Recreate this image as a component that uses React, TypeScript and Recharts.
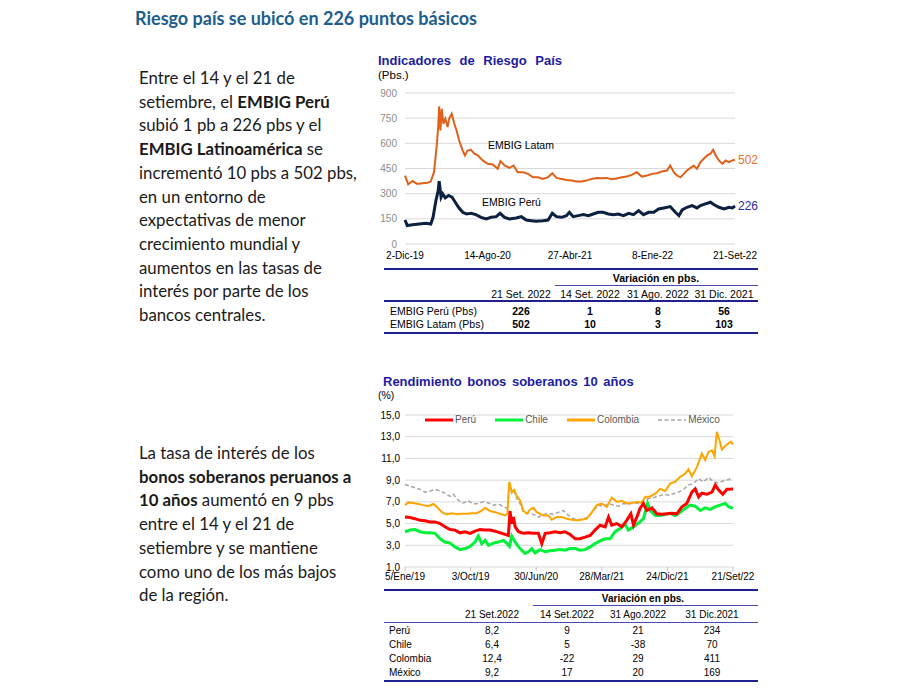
import { LineChart, Line, XAxis, YAxis, CartesianGrid } from 'recharts';
import type { CSSProperties, ReactNode } from 'react';

const ARIAL = '"Liberation Sans", Arial, sans-serif';
const CALIBRI = 'Lato, "Open Sans", sans-serif';

// --- Indicadores de Riesgo País (días desde 2-Dic-19) ---
const riesgoTicks = [0, 256, 512, 768, 1024];
const riesgoTickLabels = ['2-Dic-19', '14-Ago-20', '27-Abr-21', '8-Ene-22', '21-Set-22'];
const riesgoYTicks = [0, 150, 300, 450, 600, 750, 900];

const latamDias = [0, 10, 23, 38, 54, 70, 80, 90, 99, 103, 106, 110, 114, 119, 125, 132, 137, 145, 153, 160, 168, 179, 186, 194, 205, 215, 226, 241, 257, 272, 288, 296, 309, 324, 337, 350, 366, 382, 397, 413, 428, 444, 457, 470, 486, 501, 517, 532, 548, 563, 579, 595, 610, 626, 641, 657, 673, 688, 704, 719, 735, 751, 766, 782, 797, 813, 823, 834, 844, 855, 865, 875, 886, 896, 906, 917, 927, 938, 948, 956, 964, 974, 985, 995, 1005, 1016, 1024];
const latamValores = [408, 355, 375, 358, 362, 365, 372, 428, 597, 697, 820, 677, 806, 717, 747, 697, 747, 776, 717, 677, 617, 557, 528, 557, 561, 538, 528, 498, 478, 474, 448, 494, 468, 454, 468, 428, 428, 418, 398, 398, 388, 398, 422, 394, 388, 382, 378, 372, 372, 378, 388, 394, 392, 394, 386, 390, 398, 402, 412, 428, 402, 408, 418, 422, 432, 438, 468, 428, 408, 398, 418, 438, 454, 468, 448, 488, 508, 528, 538, 561, 528, 498, 478, 498, 488, 498, 502];

const peruEmbigDias = [0, 7, 23, 44, 65, 80, 87, 96, 103, 106, 112, 117, 125, 135, 146, 156, 166, 179, 191, 205, 220, 236, 252, 267, 283, 295, 309, 324, 345, 361, 376, 392, 407, 428, 444, 457, 470, 486, 501, 510, 522, 538, 553, 569, 584, 600, 615, 631, 647, 662, 678, 694, 709, 725, 740, 756, 772, 787, 803, 823, 839, 850, 860, 875, 891, 906, 917, 932, 948, 958, 974, 990, 1005, 1016, 1024];
const peruEmbigValores = [143, 110, 115, 119, 123, 119, 159, 259, 318, 374, 279, 299, 275, 289, 279, 249, 219, 189, 179, 183, 175, 159, 149, 159, 163, 183, 159, 149, 155, 163, 143, 139, 135, 139, 143, 183, 163, 159, 169, 189, 163, 169, 175, 169, 179, 189, 189, 179, 175, 179, 169, 183, 175, 199, 175, 189, 189, 209, 215, 223, 189, 169, 203, 219, 229, 215, 229, 239, 249, 235, 219, 209, 219, 215, 226];

// --- Rendimiento bonos soberanos 10 años (días desde 5/Ene/19) ---
const bonosTicks = [0, 271, 542, 813, 1084, 1355];
const bonosTickLabels = ['5/Ene/19', '3/Oct/19', '30/Jun/20', '28/Mar/21', '24/Dic/21', '21/Set/22'];
const bonosYTicks = [1, 3, 5, 7, 9, 11, 13, 15];

const mexicoDias = [0, 21, 41, 62, 83, 103, 124, 145, 165, 186, 200, 220, 241, 262, 282, 303, 324, 345, 365, 386, 407, 423, 431, 441, 448, 462, 475, 489, 510, 531, 551, 572, 593, 613, 634, 655, 675, 696, 717, 737, 758, 779, 799, 820, 841, 861, 882, 903, 923, 944, 965, 985, 1006, 1027, 1047, 1068, 1089, 1109, 1130, 1151, 1171, 1192, 1213, 1233, 1254, 1275, 1295, 1316, 1337, 1355];
const mexicoValores = [8.6, 8.45, 8.3, 8.15, 7.9, 8.0, 8.15, 8.0, 7.8, 7.5, 7.7, 7.15, 6.9, 7.1, 6.8, 6.85, 7.0, 6.9, 6.7, 6.8, 6.55, 6.4, 8.55, 7.8, 8.1, 7.3, 6.85, 6.05, 5.95, 5.85, 5.6, 5.85, 5.95, 5.85, 6.05, 6.2, 5.75, 5.45, 5.35, 5.45, 5.6, 6.2, 6.7, 6.55, 6.85, 6.7, 6.6, 6.85, 6.8, 6.9, 6.85, 7.15, 7.3, 7.4, 7.5, 7.7, 7.6, 7.75, 7.9, 8.15, 8.55, 8.7, 9.15, 8.85, 9.25, 8.85, 8.75, 8.95, 9.05, 9.25];

const colombiaDias = [0, 14, 34, 55, 76, 96, 117, 131, 152, 172, 193, 214, 234, 255, 276, 296, 317, 331, 351, 372, 393, 413, 423, 431, 441, 451, 462, 475, 489, 503, 517, 531, 544, 558, 572, 593, 606, 627, 648, 668, 689, 710, 730, 751, 772, 792, 813, 834, 854, 875, 896, 916, 937, 958, 978, 992, 1013, 1034, 1054, 1075, 1096, 1116, 1137, 1158, 1171, 1185, 1206, 1226, 1240, 1254, 1268, 1279, 1288, 1299, 1309, 1323, 1337, 1346, 1355];
const colombiaValores = [6.7, 6.95, 6.9, 6.8, 6.7, 6.6, 6.8, 6.55, 6.05, 5.85, 5.95, 5.85, 5.9, 5.9, 5.95, 5.95, 6.2, 6.45, 6.15, 6.05, 5.9, 5.75, 5.9, 8.85, 7.9, 8.1, 7.5, 7.15, 6.2, 5.9, 6.3, 6.45, 6.05, 5.9, 5.75, 5.75, 5.35, 5.6, 5.6, 5.45, 5.35, 5.3, 5.35, 5.45, 6.05, 6.7, 6.85, 6.55, 7.4, 7.0, 7.1, 6.85, 6.9, 7.0, 6.9, 7.45, 7.5, 7.75, 8.2, 8.0, 8.7, 8.85, 9.3, 9.6, 10.0, 9.35, 10.2, 11.45, 10.85, 11.6, 11.75, 11.2, 13.45, 12.7, 11.8, 12.15, 12.4, 12.55, 12.3];

const chileDias = [0, 21, 41, 62, 83, 103, 124, 145, 165, 186, 207, 227, 248, 269, 289, 303, 317, 331, 345, 365, 386, 407, 420, 431, 441, 455, 469, 482, 496, 510, 524, 537, 558, 579, 599, 620, 641, 661, 682, 703, 723, 744, 765, 785, 806, 827, 847, 868, 889, 909, 923, 944, 965, 985, 1002, 1013, 1034, 1054, 1075, 1096, 1116, 1137, 1158, 1178, 1199, 1220, 1240, 1261, 1282, 1302, 1323, 1337, 1355];
const chileValores = [4.25, 4.4, 4.45, 4.25, 4.15, 4.15, 4.1, 3.6, 3.3, 3.2, 2.85, 2.6, 2.7, 2.9, 3.3, 3.85, 3.15, 3.45, 3.0, 3.2, 3.3, 3.45, 3.2, 2.9, 3.85, 3.3, 2.85, 2.55, 2.25, 2.4, 2.7, 2.3, 2.6, 2.4, 2.5, 2.55, 2.6, 2.55, 2.7, 2.7, 2.55, 2.6, 2.85, 3.15, 3.4, 3.6, 3.6, 4.25, 4.55, 4.95, 4.4, 4.7, 5.05, 5.45, 6.85, 6.2, 5.75, 5.75, 5.85, 5.95, 5.75, 6.05, 6.4, 6.7, 6.6, 6.2, 6.45, 6.3, 6.55, 6.7, 6.85, 6.55, 6.4];

const peruBonoDias = [0, 21, 41, 62, 83, 103, 124, 145, 165, 186, 207, 227, 248, 269, 289, 310, 331, 351, 372, 393, 413, 427, 434, 441, 448, 455, 469, 489, 510, 531, 551, 565, 579, 599, 620, 641, 661, 682, 703, 723, 744, 765, 785, 806, 827, 841, 854, 875, 896, 916, 933, 944, 958, 971, 985, 999, 1020, 1040, 1061, 1082, 1102, 1123, 1144, 1164, 1185, 1199, 1213, 1226, 1247, 1268, 1282, 1295, 1313, 1330, 1344, 1355];
const peruBonoValores = [5.6, 5.55, 5.45, 5.3, 5.25, 5.15, 5.15, 5.0, 4.7, 4.45, 4.4, 4.15, 4.25, 4.1, 4.3, 4.45, 4.4, 4.4, 4.3, 4.15, 4.0, 3.9, 6.15, 5.0, 5.6, 4.7, 4.25, 4.1, 4.15, 4.1, 4.1, 3.15, 4.1, 4.15, 4.25, 4.15, 4.25, 4.0, 3.6, 3.6, 3.75, 3.9, 4.4, 4.85, 4.7, 5.6, 4.85, 5.0, 4.7, 5.3, 5.9, 4.85, 5.6, 6.4, 6.85, 6.2, 6.45, 5.9, 5.85, 5.9, 5.95, 5.9, 6.55, 6.85, 7.9, 8.2, 7.45, 7.8, 7.7, 7.9, 8.55, 8.1, 7.7, 8.15, 8.15, 8.2];

const bonosLeyenda = ['Perú', 'Chile', 'Colombia', 'México'];
const bonosColores = ['#FF0000', '#00F03C', '#FFA500', '#A6A6A6'];

// --- tablas ---
const tablaRiesgoColumnas = ['21 Set. 2022', '14 Set. 2022', '31 Ago. 2022', '31 Dic. 2021'];
const tablaRiesgoFilas = ['EMBIG Perú (Pbs)', 'EMBIG Latam (Pbs)'];
const tablaRiesgoValores = [
	['226', '1', '8', '56'],
	['502', '10', '3', '103'],
];
const tablaBonosColumnas = ['21 Set.2022', '14 Set.2022', '31 Ago.2022', '31 Dic.2021'];
const tablaBonosFilas = ['Perú', 'Chile', 'Colombia', 'México'];
const tablaBonosValores = [
	['8,2', '9', '21', '234'],
	['6,4', '5', '-38', '70'],
	['12,4', '-22', '29', '411'],
	['9,2', '17', '20', '169'],
];

// --- textos ---
type Tramo = [string, boolean];
const parrafoRiesgo: Tramo[][] = [
	[['Entre el 14 y el 21 de', false]],
	[['setiembre, el ', false], ['EMBIG Perú', true]],
	[['subió 1 pb a 226 pbs y el', false]],
	[['EMBIG Latinoamérica', true], [' se', false]],
	[['incrementó 10 pbs a 502 pbs,', false]],
	[['en un entorno de', false]],
	[['expectativas de menor', false]],
	[['crecimiento mundial y', false]],
	[['aumentos en las tasas de', false]],
	[['interés por parte de los', false]],
	[['bancos centrales.', false]],
];
const parrafoBonos: Tramo[][] = [
	[['La tasa de interés de los', false]],
	[['bonos soberanos peruanos a', true]],
	[['10 años', true], [' aumentó en 9 pbs', false]],
	[['entre el 14 y el 21 de', false]],
	[['setiembre y se mantiene', false]],
	[['como uno de los más bajos', false]],
	[['de la región.', false]],
];

const serie = (dias: number[], valores: number[]) =>
	dias.map((d, i) => ({ dia: d, v: valores[i] }));

function Abs({
	x,
	y,
	children,
	align = 'left',
	style,
}: {
	x: number;
	y: number;
	children: ReactNode;
	align?: 'left' | 'center' | 'right';
	style?: CSSProperties;
}) {
	const tx = align === 'center' ? '-50%' : align === 'right' ? '-100%' : '0';
	return (
		<div
			style={{
				position: 'absolute',
				left: x,
				top: y,
				transform: `translate(${tx}, -50%)`,
				whiteSpace: 'pre',
				lineHeight: 1,
				...style,
			}}
		>
			{children}
		</div>
	);
}

function Raya({ x1, x2, y, h, color }: { x1: number; x2: number; y: number; h: number; color: string }) {
	return (
		<div
			style={{ position: 'absolute', left: x1, top: y - h / 2, width: x2 - x1, height: h, background: color }}
		/>
	);
}

function Parrafo({ lineas, top }: { lineas: Tramo[][]; top: number }) {
	return (
		<div
			style={{
				position: 'absolute',
				left: 139,
				top,
				fontFamily: CALIBRI,
				fontSize: 16.8,
				lineHeight: '23.7px',
				color: '#1a1a1a',
				whiteSpace: 'pre',
			}}
		>
			{lineas.map((l, i) => (
				<div key={i}>
					{l.map(([t, b], j) => (
						<span key={j} style={{ fontWeight: b ? 700 : 400 }}>
							{t}
						</span>
					))}
				</div>
			))}
		</div>
	);
}

function GraficoRiesgo() {
	const latam = serie(latamDias, latamValores);
	const peru = serie(peruEmbigDias, peruEmbigValores);
	const finLabel = (color: string, n: number) => (p: any) =>
		p.index === n - 1 ? (
			<text x={p.x + 3} y={p.y} dy={4} fill={color} fontSize={12} fontFamily={ARIAL}>
				{p.value}
			</text>
		) : (
			<g />
		);
	return (
		<LineChart width={400} height={190} margin={{ top: 13, right: 35, bottom: 6, left: 0 }}>
			<CartesianGrid vertical={false} stroke="#D9D9D9" />
			<XAxis
				type="number"
				dataKey="dia"
				domain={[0, 1024]}
				ticks={riesgoTicks}
				interval={0}
				tickFormatter={(v: number) => riesgoTickLabels[riesgoTicks.indexOf(v)]}
				axisLine={false}
				tickLine={false}
				height={20}
				tick={{ fill: '#000', fontSize: 10, fontFamily: ARIAL }}
			/>
			<YAxis
				domain={[0, 900]}
				ticks={riesgoYTicks}
				interval={0}
				axisLine={false}
				tickLine={false}
				width={35}
				tick={{ fill: '#8C8C8C', fontSize: 10, fontFamily: ARIAL }}
			/>
			<Line
				data={latam}
				dataKey="v"
				stroke="#E0601A"
				strokeWidth={2}
				dot={false}
				isAnimationActive={false}
				label={finLabel('#E8722A', latam.length)}
			/>
			<Line
				data={peru}
				dataKey="v"
				stroke="#0C203F"
				strokeWidth={3}
				dot={false}
				isAnimationActive={false}
				label={finLabel('#2A2AA5', peru.length)}
			/>
		</LineChart>
	);
}

function GraficoBonos() {
	const series = [
		serie(peruBonoDias, peruBonoValores),
		serie(chileDias, chileValores),
		serie(colombiaDias, colombiaValores),
		serie(mexicoDias, mexicoValores),
	];
	const anchos = [3, 3, 2, 1.5];
	const orden = [3, 2, 1, 0];
	return (
		<LineChart width={400} height={190} margin={{ top: 15, right: 37, bottom: 5, left: 0 }}>
			<CartesianGrid vertical={false} stroke="#D9D9D9" />
			<XAxis
				type="number"
				dataKey="dia"
				domain={[0, 1355]}
				ticks={bonosTicks}
				interval={0}
				tickFormatter={(v: number) => bonosTickLabels[bonosTicks.indexOf(v)]}
				axisLine={false}
				tickLine={{ stroke: '#BFBFBF' }}
				tickSize={4}
				height={18}
				tick={{ fill: '#000', fontSize: 10, fontFamily: ARIAL }}
			/>
			<YAxis
				domain={[1, 15]}
				ticks={bonosYTicks}
				interval={0}
				axisLine={false}
				tickLine={false}
				tickSize={3}
				width={35}
				tickFormatter={(v: number) => v.toFixed(1).replace('.', ',')}
				tick={{ fill: '#000', fontSize: 10, fontFamily: ARIAL }}
			/>
			{orden.map(i => (
				<Line
					key={bonosLeyenda[i]}
					data={series[i]}
					dataKey="v"
					stroke={bonosColores[i]}
					strokeWidth={anchos[i]}
					strokeDasharray={i === 3 ? '4 2.5' : undefined}
					dot={false}
					isAnimationActive={false}
				/>
			))}
		</LineChart>
	);
}

function LeyendaBonos() {
	return (
		<div
			style={{
				position: 'absolute',
				left: 425,
				top: 413,
				display: 'flex',
				gap: 19,
				fontFamily: ARIAL,
				fontSize: 10,
				color: '#595959',
				lineHeight: '14px',
			}}
		>
			{bonosLeyenda.map((n, i) => (
				<div key={n} style={{ display: 'flex', alignItems: 'center' }}>
					<svg width={28} height={14} style={{ marginRight: 2 }}>
						<line
							x1={0}
							x2={28}
							y1={7}
							y2={7}
							stroke={bonosColores[i]}
							strokeWidth={i === 3 ? 1.5 : 3}
							strokeDasharray={i === 3 ? '4 2.5' : undefined}
						/>
					</svg>
					<span>{n}</span>
				</div>
			))}
		</div>
	);
}

const AZUL = '#20208F';
const AZUL_FINO = '#4A4AB5';

export default function App() {
	const t10: CSSProperties = { fontFamily: ARIAL, fontSize: 10.5, color: '#000' };
	const riesgoCentros = [521, 590, 658, 724];
	const bonosCentros = [492, 567, 638, 712];
	return (
		<div
			style={{
				position: 'absolute',
				left: 0,
				top: 0,
				width: 900,
				height: 690,
				background: '#fff',
				overflow: 'hidden',
			}}
		>
			<Abs x={135} y={18} style={{ fontFamily: CALIBRI, fontWeight: 700, fontSize: 18, color: '#1D5E8C' }}>
				Riesgo país se ubicó en 226 puntos básicos
			</Abs>

			<Parrafo lineas={parrafoRiesgo} top={66} />
			<Parrafo lineas={parrafoBonos} top={441} />

			{/* Gráfico 1 */}
			<Abs x={378} y={60} style={{ fontFamily: ARIAL, fontWeight: 700, fontSize: 13, color: '#1C1CA3', wordSpacing: 5 }}>
				Indicadores de Riesgo País
			</Abs>
			<Abs x={378} y={76} style={{ fontFamily: ARIAL, fontSize: 11.5, color: '#000' }}>
				(Pbs.)
			</Abs>
			<div style={{ position: 'absolute', left: 370, top: 80 }}>
				<GraficoRiesgo />
			</div>
			<Abs x={488} y={145} style={{ fontFamily: ARIAL, fontSize: 10.5, color: '#000' }}>
				EMBIG Latam
			</Abs>
			<Abs x={482} y={202} style={{ fontFamily: ARIAL, fontSize: 10.5, color: '#000' }}>
				EMBIG Perú
			</Abs>

			{/* Tabla 1 */}
			<Raya x1={384} x2={758} y={269} h={2} color={AZUL} />
			<Abs x={656} y={278} align="center" style={{ ...t10, fontWeight: 700 }}>
				Variación en pbs.
			</Abs>
			<Raya x1={555} x2={758} y={285} h={1} color={AZUL_FINO} />
			{tablaRiesgoColumnas.map((c, i) => (
				<Abs key={c} x={riesgoCentros[i]} y={294} align="center" style={t10}>
					{c}
				</Abs>
			))}
			<Raya x1={384} x2={758} y={301} h={1.5} color={AZUL} />
			{tablaRiesgoFilas.map((f, r) => (
				<div key={f}>
					<Abs x={390} y={311 + r * 12.5} style={t10}>
						{f}
					</Abs>
					{tablaRiesgoValores[r].map((v, i) => (
						<Abs key={i} x={riesgoCentros[i]} y={311 + r * 12.5} align="center" style={{ ...t10, fontWeight: 700 }}>
							{v}
						</Abs>
					))}
				</div>
			))}
			<Raya x1={384} x2={758} y={333} h={2} color={AZUL} />

			{/* Gráfico 2 */}
			<Abs x={383} y={381} style={{ fontFamily: ARIAL, fontWeight: 700, fontSize: 13, color: '#1C1CA3', wordSpacing: 2 }}>
				Rendimiento bonos soberanos 10 años
			</Abs>
			<Abs x={378} y={395} style={{ fontFamily: ARIAL, fontSize: 10.5, color: '#000' }}>
				(%)
			</Abs>
			<div style={{ position: 'absolute', left: 370, top: 400 }}>
				<GraficoBonos />
			</div>
			<LeyendaBonos />

			{/* Tabla 2 */}
			<Raya x1={384} x2={758} y={590} h={2.5} color={AZUL} />
			<Abs x={643} y={599} align="center" style={{ ...t10, fontSize: 10, fontWeight: 700 }}>
				Variación en pbs.
			</Abs>
			<Raya x1={533} x2={758} y={605} h={1} color={AZUL_FINO} />
			{tablaBonosColumnas.map((c, i) => (
				<Abs key={c} x={bonosCentros[i]} y={615} align="center" style={{ ...t10, fontSize: 10 }}>
					{c}
				</Abs>
			))}
			<Raya x1={384} x2={758} y={622} h={1} color={AZUL_FINO} />
			{tablaBonosFilas.map((f, r) => (
				<div key={f}>
					<Abs x={389} y={631 + r * 14} style={{ ...t10, fontSize: 10 }}>
						{f}
					</Abs>
					{tablaBonosValores[r].map((v, i) => (
						<Abs key={i} x={bonosCentros[i]} y={631 + r * 14} align="center" style={{ ...t10, fontSize: 10 }}>
							{v}
						</Abs>
					))}
				</div>
			))}
			<Raya x1={384} x2={758} y={681} h={2.5} color={AZUL} />
		</div>
	);
}
